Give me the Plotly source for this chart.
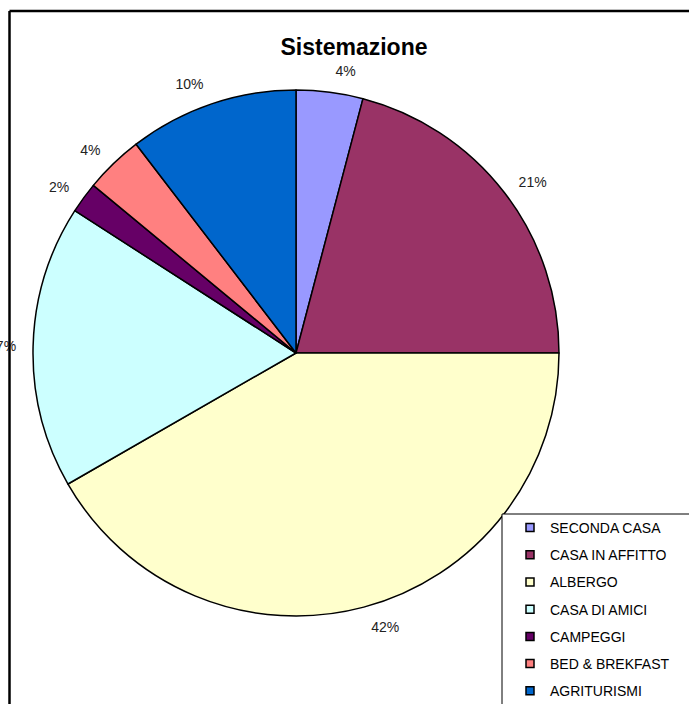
import plotly.graph_objects as go

categories = ["SECONDA CASA", "CASA IN AFFITTO", "ALBERGO", "CASA DI AMICI",
              "CAMPEGGI", "BED & BREKFAST", "AGRITURISMI"]
values = [4.1, 20.9, 41.7, 17.4, 1.9, 3.6, 10.4]
colors = ["#9999FF", "#993366", "#FFFFCC", "#CCFFFF",
          "#660066", "#FF8080", "#0066CC"]

W, H = 689, 704
font = "Liberation Sans, Arial, sans-serif"
cx, cy, r = 296, 353, 263


def dom(rad):
    return dict(x=[(cx - rad) / W, (cx + rad) / W],
                y=[(H - cy - rad) / H, (H - cy + rad) / H])


fig = go.Figure()
fig.add_trace(go.Pie(
    labels=categories,
    values=values,
    sort=False,
    direction="clockwise",
    rotation=0,
    marker=dict(colors=colors, line=dict(color="black", width=1.5)),
    textinfo="none",
    domain=dom(r),
    showlegend=False,
    hoverinfo="label+percent",
))
# transparent, slightly wider copy: only carries the percentage labels
fig.add_trace(go.Pie(
    labels=categories,
    values=values,
    sort=False,
    direction="clockwise",
    rotation=0,
    marker=dict(colors=["rgba(0,0,0,0)"] * len(values),
                line=dict(width=0)),
    texttemplate="%{percent:.0%}",
    textposition="outside",
    outsidetextfont=dict(family=font, size=14, color="#222"),
    domain=dom(r + 13),
    showlegend=False,
    hoverinfo="skip",
))

# legend entries, one group each so the spacing can be opened up
for name, col in zip(categories, colors):
    fig.add_trace(go.Scatter(
        x=[None], y=[None], mode="markers", name=name, legendgroup=name,
        marker=dict(symbol="square", size=8, color=col,
                    line=dict(color="black", width=1.5)),
    ))

fig.update_layout(
    width=W, height=H,
    margin=dict(l=0, r=0, t=0, b=0, autoexpand=False),
    paper_bgcolor="white",
    plot_bgcolor="white",
    xaxis=dict(visible=False),
    yaxis=dict(visible=False),
    title=dict(text="<b>Sistemazione</b>", x=354 / W, xanchor="center",
               y=1 - 47 / H, yanchor="middle",
               font=dict(family=font, size=23, color="black")),
    legend=dict(x=510 / W, xanchor="left", y=1 - 512 / H, yanchor="top",
                font=dict(family=font, size=14, color="black"),
                tracegroupgap=6, bgcolor="rgba(0,0,0,0)", borderwidth=0),
    shapes=[
        dict(type="rect", xref="paper", yref="paper",
             x0=502 / W, x1=1.05, y0=-0.05, y1=1 - 514 / H,
             line=dict(color="black", width=1), fillcolor="white", layer="above"),
        dict(type="line", xref="paper", yref="paper",
             x0=9.5 / W, x1=9.5 / W, y0=-0.05, y1=1 - 11 / H,
             line=dict(color="black", width=2.5)),
        dict(type="line", xref="paper", yref="paper",
             x0=9.5 / W, x1=1.05, y0=1 - 11 / H, y1=1 - 11 / H,
             line=dict(color="black", width=2.5)),
    ],
)

fig.write_html("out.html", config={"displayModeBar": False},
               post_script="document.body.style.margin='0';"
                           "document.body.style.overflow='hidden';")
